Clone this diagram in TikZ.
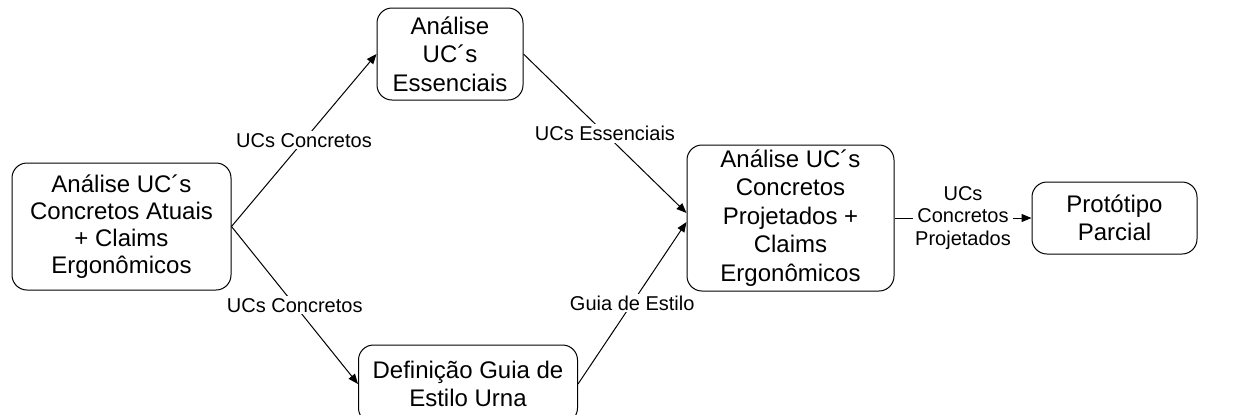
\documentclass[tikz,border=0pt]{standalone}
\usepackage{fontspec}
\setmainfont{Liberation Sans}
\usetikzlibrary{arrows.meta}
\begin{document}
\begin{tikzpicture}[x=0.5pt,y=-0.5pt,>={Triangle[length=5pt,width=4pt]},
    etapa/.style={draw,line width=0.5pt,rounded corners=7.5pt,align=center,inner sep=0pt,
      font=\fontsize{12}{14.25}\selectfont},
    fluxo/.style={->,line width=0.5pt},
    rotulo/.style={fill=white,inner sep=1pt,align=center,font=\fontsize{10}{11.25}\selectfont}]
                  \useasboundingbox (0,0) rectangle (1233,414);
                  \node[etapa,minimum width=109.5pt,minimum height=63.5pt,font=\fontsize{12}{13.6}\selectfont] (atuais) at (121.5,226.5)
                      {Análise UC´s\\Concretos Atuais\\+ Claims\\Ergonômicos};
                  \node[etapa,minimum width=73pt,minimum height=46pt] (essenciais) at (450,54)
                      {Análise\\UC´s\\Essenciais};
                  \node[etapa,minimum width=109.5pt,minimum height=39pt] (guia) at (468,384)
                      {Definição Guia de\\Estilo Urna};
                  \node[etapa,minimum width=103.5pt,minimum height=73pt] (projetados) at (790.5,218)
                      {Análise UC´s\\Concretos\\Projetados +\\Claims\\Ergonômicos};
                  \node[etapa,minimum width=82.5pt,minimum height=36pt] (prototipo) at (1114.5,218)
                      {Protótipo\\Parcial};
                  \draw[fluxo] (atuais.east)--node[rotulo]{UCs Concretos}(essenciais.west);
                  \draw[fluxo] (atuais.east)--node[rotulo]{UCs Concretos}(guia.west);
                  \draw[fluxo] (essenciais.east)--node[rotulo]{UCs Essenciais}([yshift=2.5pt]projetados.west);
                  \draw[fluxo] (guia.east)--node[rotulo]{Guia de Estilo}([yshift=-2pt]projetados.west);
                  \draw[fluxo] (projetados.east)--node[rotulo]{UCs\\Concretos\\Projetados}(prototipo.west);
              \end{tikzpicture}
\end{document}
